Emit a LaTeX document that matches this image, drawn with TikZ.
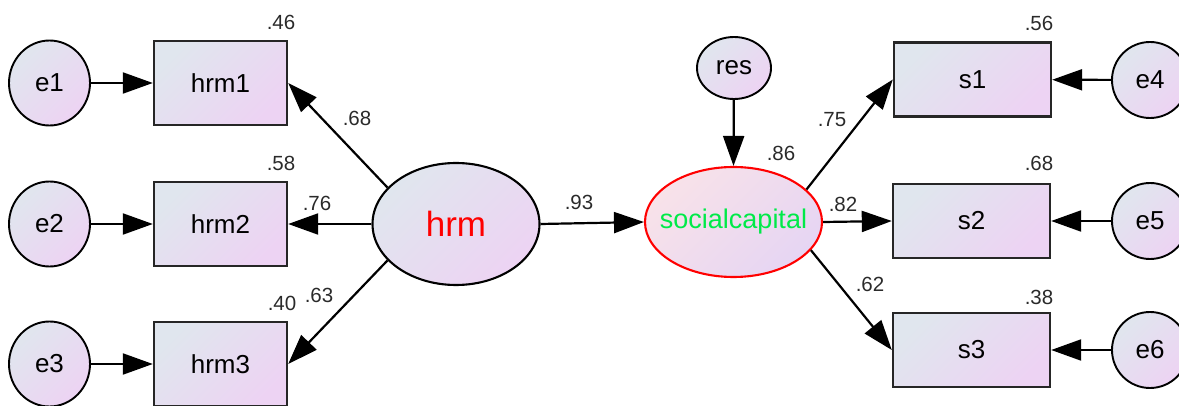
\documentclass[tikz,border=0pt]{standalone}
\usepackage{fontspec}
\setmainfont{Liberation Sans}
\usetikzlibrary{arrows.meta,shapes.geometric}
\definecolor{shadeA}{HTML}{E0E6EE}
\definecolor{shadeB}{HTML}{EDD3F3}
\definecolor{scA}{HTML}{F8E2E9}
\definecolor{scB}{HTML}{E6D5F3}
\definecolor{capgreen}{HTML}{00EA48}
\definecolor{estgray}{HTML}{2A2A2A}
\tikzset{
  shadefill/.style={left color=shadeA, right color=shadeB, shading angle=45},
  obsbox/.style={rectangle, draw=black!85, line width=2.4pt, shadefill,
    minimum width=133pt, minimum height=84pt, inner sep=0pt,
    font=\fontsize{26}{30}\selectfont},
  sbox/.style={obsbox, minimum width=157pt, minimum height=74pt},
  errnode/.style={ellipse, draw=black, line width=1.9pt, shadefill,
    minimum width=78pt, minimum height=80pt, inner sep=0pt,
    font=\fontsize{26}{30}\selectfont},
  latnode/.style={ellipse, draw=black, line width=2.1pt, inner sep=0pt},
  pathline/.style={line width=2.2pt, draw=black, -{Triangle[length=30pt,width=21pt]}},
  est/.style={inner sep=0pt, text=estgray, font=\fontsize{20.5}{24}\selectfont}
}
\begin{document}
\begin{tikzpicture}[x=1pt,y=-1pt]
  \useasboundingbox (0,0) rectangle (1179,406);

  % measurement model for hrm
  \node[errnode, minimum width=81pt, minimum height=85pt] (e1) at (49.5,83) {e1};
  \node[errnode, minimum width=81pt, minimum height=85pt] (e2) at (49.5,224) {e2};
  \node[errnode, minimum width=81pt, minimum height=85pt] (e3) at (49.5,364) {e3};
  \node[obsbox] (hrm1) at (220.5,83) {hrm1};
  \node[obsbox] (hrm2) at (220.5,224) {hrm2};
  \node[obsbox] (hrm3) at (220.5,364) {hrm3};

  % latent variables
  \node[latnode, shadefill, minimum width=167pt, minimum height=122pt,
        font=\fontsize{35}{40}\selectfont, text=red] (hrm) at (456,224) {hrm};
  \node[latnode, draw=red, left color=scA, right color=scB, shading angle=45,
        minimum width=177pt, minimum height=110pt,
        label={[font=\fontsize{27}{30}\selectfont, text=capgreen]center:socialcapital}]
        (sc) at (733.5,222) {};
  \node[errnode, minimum width=74pt, minimum height=62pt] (res) at (734,68) {res};

  % measurement model for socialcapital
  \node[sbox] (s1) at (972.5,79.5) {s1};
  \node[sbox] (s2) at (971.5,221) {s2};
  \node[sbox] (s3) at (971.5,350) {s3};
  \node[errnode, minimum width=76pt, minimum height=76pt] (e4) at (1150,80) {e4};
  \node[errnode, minimum width=76pt, minimum height=76pt] (e5) at (1150,221) {e5};
  \node[errnode, minimum width=76pt, minimum height=76pt] (e6) at (1150,350) {e6};

  % paths
  \draw[pathline] (e1) -- (hrm1);
  \draw[pathline] (e2) -- (hrm2);
  \draw[pathline] (e3) -- (hrm3);
  \draw[pathline] (hrm.152) -- (hrm1.east);
  \draw[pathline] (hrm.west) -- (hrm2.east);
  \draw[pathline] (hrm.208) -- (hrm3.east);
  \draw[pathline] (hrm.east) -- (sc.west);
  \draw[pathline] (res) -- (sc.north);
  \draw[pathline] (sc.24) -- (s1.west);
  \draw[pathline] (sc.east) -- (s2.west);
  \draw[pathline] (sc.-20) -- (s3.west);
  \draw[pathline] (e4) -- (s1);
  \draw[pathline] (e5) -- (s2);
  \draw[pathline] (e6) -- (s3);

  % estimates
  \node[est] (r1) at (281,22) {.46};
  \node[est] (r2) at (281,163) {.58};
  \node[est] (r3) at (282,303) {.40};
  \node[est] (l1) at (357,118) {.68};
  \node[est] (l2) at (317,203) {.76};
  \node[est] (l3) at (319,295) {.63};
  \node[est] (b1) at (579,202) {.93};
  \node[est] (rsc) at (781,153) {.86};
  \node[est] (l4) at (832,120) {.75};
  \node[est] (l5) at (843,204) {.82};
  \node[est] (l6) at (870,284) {.62};
  \node[est] (r4) at (1039,23) {.56};
  \node[est] (r5) at (1039,163) {.68};
  \node[est] (r6) at (1039,297) {.38};
\end{tikzpicture}
\end{document}
